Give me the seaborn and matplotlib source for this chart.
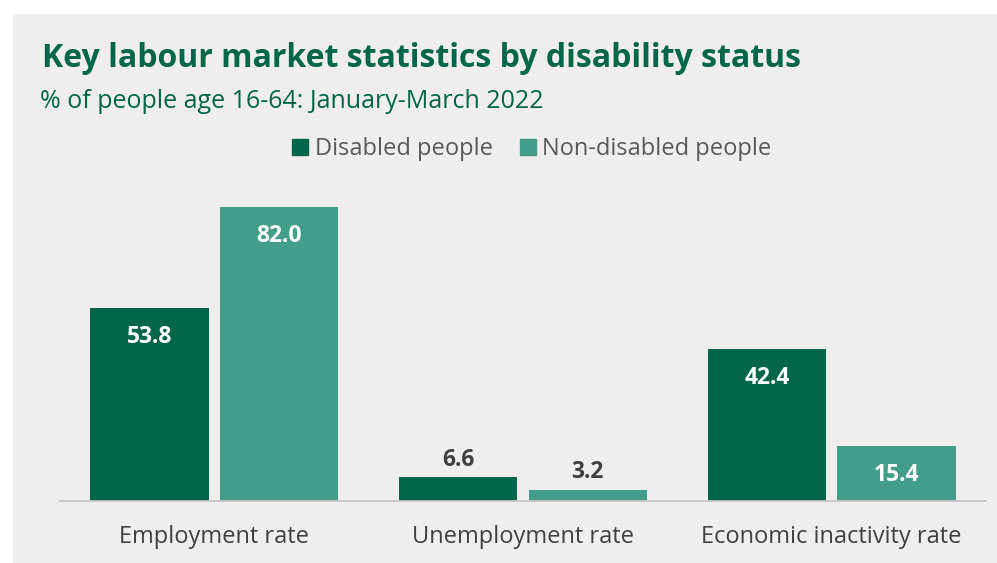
import matplotlib
matplotlib.use("Agg")
import matplotlib.pyplot as plt
from matplotlib.patches import Rectangle
from matplotlib.lines import Line2D
import seaborn as sns
import pandas as pd

# Labour market measures, % of people aged 16-64, Jan-Mar 2022
categories = ["Employment rate", "Unemployment rate", "Economic inactivity rate"]
groups = ["Disabled people", "Non-disabled people"]
disabled = [53.8, 6.6, 42.4]
non_disabled = [82.0, 3.2, 15.4]

title = "Key labour market statistics by disability status"
subtitle = "% of people age 16-64: January-March 2022"

dark_green = "#006649"
teal = "#429e8a"
panel_bg = "#efeeec"

df = pd.DataFrame({
    "category": categories * 2,
    "group": [groups[0]] * 3 + [groups[1]] * 3,
    "value": disabled + non_disabled,
})

sns.set_theme(style="white")
plt.rcParams["font.family"] = ["Open Sans", "DejaVu Sans"]

W, H = 997, 563
fig = plt.figure(figsize=(W / 100, H / 100), dpi=100)
fig.patch.set_facecolor("white")
fig.add_artist(Rectangle((13 / W, 0), 1 - 13 / W, 1 - 14 / H,
                         transform=fig.transFigure, facecolor=panel_bg,
                         edgecolor="none", zorder=-10))

ymax = 90
ax_bottom = (H - 501) / H
ax_top = (H - (501 - ymax * 3.585)) / H
ax = fig.add_axes([60 / W, ax_bottom, (986 - 60) / W, ax_top - ax_bottom])
ax.set_facecolor("none")

sns.barplot(data=df, x="category", y="value", hue="group",
            order=categories, hue_order=groups,
            palette=[dark_green, teal], width=0.84, gap=0.085,
            legend=False, ax=ax, saturation=1, linewidth=0, edgecolor="none")

ax.set_ylim(0, ymax)
ax.set_xlim(-0.5, 2.5)
ax.set_yticks([])
ax.set_xlabel("")
ax.set_ylabel("")
for s in ["top", "left", "right"]:
    ax.spines[s].set_visible(False)
ax.spines["bottom"].set_color("#c6c6c6")
ax.spines["bottom"].set_linewidth(1.3)

ax.set_xticks(range(len(categories)))
ax.set_xticklabels(categories, fontsize=17, color="#404040")
ax.tick_params(axis="x", which="major", length=0, pad=17)
ax.set_xticks([-0.5, 0.5, 1.5, 2.5], minor=True)
ax.tick_params(axis="x", which="minor", length=6, width=1.3,
               color="#c6c6c6", direction="out")

# Value labels: inside the bar near the top, above it when the bar is short
for container in ax.containers:
    for bar in container:
        v = bar.get_height()
        cx = bar.get_x() + bar.get_width() / 2
        if v >= 10:
            ax.annotate(f"{v:.1f}", (cx, v), xytext=(0, -21),
                        textcoords="offset points", ha="center", va="center",
                        fontsize=16.5, fontweight="bold", color="white")
        else:
            ax.annotate(f"{v:.1f}", (cx, v), xytext=(0, 4),
                        textcoords="offset points", ha="center", va="bottom",
                        fontsize=16.5, fontweight="bold", color="#404040")

handles = [Line2D([], [], marker="s", linestyle="none", markersize=11,
                  markerfacecolor=c, markeredgecolor=c)
           for c in (dark_green, teal)]
fig.legend(handles, groups, loc="center", bbox_to_anchor=(530 / W, 1 - 149 / H),
           ncol=2, frameon=False, fontsize=17, handletextpad=0.1,
           columnspacing=1.0, handlelength=1.0, labelcolor="#595959")

fig.text(42 / W, 1 - 67 / H, title, fontsize=23, fontweight="bold",
         color=dark_green, va="baseline", ha="left")
fig.text(40 / W, 1 - 108 / H, subtitle, fontsize=18, color=dark_green,
         va="baseline", ha="left")

fig.savefig("out.png", dpi=100, facecolor=fig.get_facecolor())
